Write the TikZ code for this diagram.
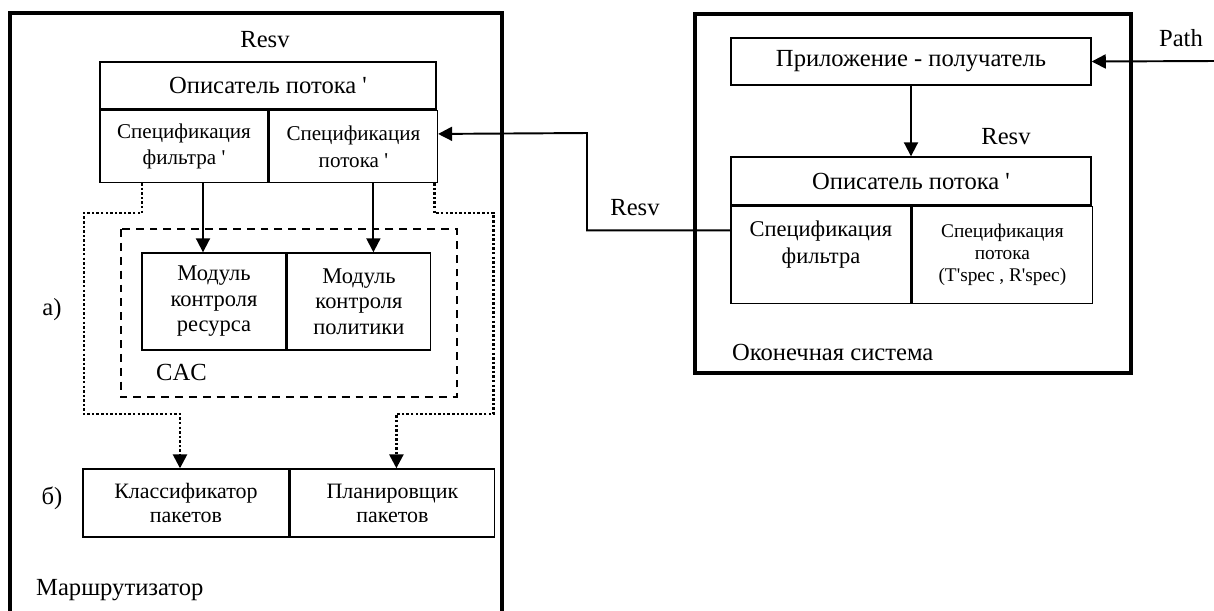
\documentclass[tikz,border=0pt]{standalone}
\usepackage{fontspec}
\setmainfont{Liberation Serif}
\usepackage{tikz}
\usetikzlibrary{arrows.meta,positioning,calc}

\def\px{0.02cm}

\begin{document}
\begin{tikzpicture}[
			x=\px, y=-\px,
			blk/.style={draw,line width=0.8pt,align=center,inner sep=0pt,font=\fontsize{12}{15.3}\selectfont},
			modfont/.style={font=\fontsize{12.8}{14.5}\selectfont},
			pktfont/.style={font=\fontsize{12.5}{13.6}\selectfont},
			smallfont/.style={font=\fontsize{11}{12.3}\selectfont},
			big/.style={font=\fontsize{14}{16}\selectfont},
			frame/.style={line width=1.9pt},
			conn/.style={line width=1.1pt,-{Triangle[length=8pt,width=8pt]}},
			dotc/.style={conn,line width=1.5pt,dash pattern=on 1.4pt off 1.2pt}
			]

			\useasboundingbox (0,0) rectangle (1214,610);

			\draw[frame] (10,13) rectangle (502,640);
			\draw[frame] (695,14) rectangle (1131,373);
			\draw[line width=0.8pt,dash pattern=on 4.5pt off 3.4pt] (121,229) rectangle (457,397);

			\node[big] (resvtop) at (265,40) {Resv};
			\node[blk,big,minimum width=336*\px,minimum height=47*\px] (ldesc) at (268,85.5) {Описатель потока \textquotesingle};
			\node[blk,minimum width=168*\px,minimum height=72*\px,anchor=north west] (lfilt) at (ldesc.south west) {Спецификация\\фильтра \textquotesingle};
			\node[blk,minimum width=168*\px,minimum height=72*\px,anchor=north west] (lflow) at (lfilt.north east) {Спецификация\\потока \textquotesingle};

			\node[blk,modfont,minimum width=144*\px,minimum height=97*\px] (mres) at (214,301.5) {Модуль\\контроля\\ресурса};
			\node[blk,modfont,minimum width=143*\px,minimum height=97*\px,anchor=north west] (mpol) at (mres.north east) {Модуль\\контроля\\политики};
			\node[big,anchor=west] (cacname) at (150,372) {CAC};

			\node[blk,pktfont,minimum width=206*\px,minimum height=68*\px] (cls) at (186,503) {Классификатор\\пакетов};
			\node[blk,pktfont,minimum width=204*\px,minimum height=68*\px,anchor=north west] (sch) at (cls.north east) {Планировщик\\пакетов};

			\node[big] (lbla) at (52,310) {а)};
			\node[big] (lblb) at (52,498) {б)};
			\node[big,anchor=west] (rtrname) at (30,590) {Маршрутизатор};

			\node[blk,big,minimum width=360*\px,minimum height=47*\px] (app) at (911,61.5) {Приложение - получатель};
			\node[blk,big,minimum width=360*\px,minimum height=48*\px] (rdesc) at (911,181) {Описатель потока \textquotesingle};
			\node[blk,font=\fontsize{12.8}{15.3}\selectfont,minimum width=180*\px,minimum height=97*\px,anchor=north west] (rfilt) at (rdesc.south west) {Спецификация\\фильтра\\[-5pt]\strut};
			\node[blk,smallfont,minimum width=180*\px,minimum height=97*\px,anchor=north west] (rflow) at (rfilt.north east) {Спецификация\\потока\\(T\textquotesingle spec , R\textquotesingle spec)};
			\node[big,anchor=west] (endname) at (726,352) {Оконечная система};

			\node[big] (pathlbl) at (1181,38) {Path};
			\node[big] (resvr) at (1006,137) {Resv};
			\node[big] (resvmid) at (635,208) {Resv};

			\coordinate (pathin) at (1214,61);
			\coordinate (bend) at (587,133);

			\draw[conn] (pathin) -- (app.east);
			\draw[conn] (app.south) -- (rdesc.north);
			\draw[conn] ($(rfilt.north west)!0.25!(rfilt.south west)$) -| (bend) -- ($(lflow.north east)!0.33!(lflow.south east)$);

			\draw[conn] (lfilt.south) ++(19,0) coordinate (f1) -- (f1 |- mres.north);
			\draw[conn] (lflow.south) ++(20,0) coordinate (f2) -- (f2 |- mpol.north);

			\draw[dotc] (lfilt.south) ++(-42,0) -- ++(0,30) -- ++(-58,0) -- ++(0,201) -| ($(cls.north)+(-6,0)$);
			\draw[dotc] (lflow.south) ++(81,0) -- ++(0,30) -- ++(59,0) -- ++(0,201) -| ($(sch.north)+(4,0)$);

			\end{tikzpicture}
\end{document}
